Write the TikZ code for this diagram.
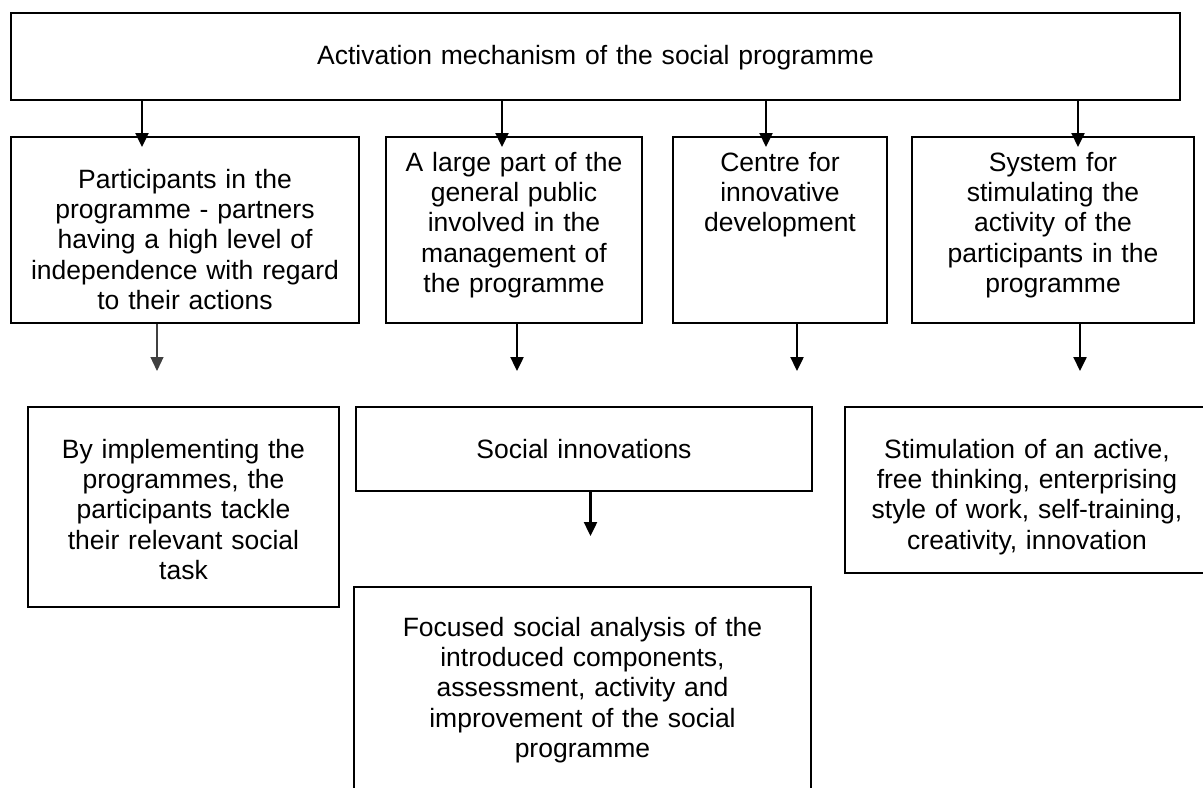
\documentclass[tikz,border=0pt]{standalone}
\usepackage{fontspec}
\setmainfont{Liberation Sans}
\usepackage{tikz}
\usetikzlibrary{arrows.meta,calc}
\tikzset{
  base/.style={font=\fontsize{13.25pt}{15.2pt}\selectfont, align=center, inner sep=0pt},
  box/.style={base, rectangle, draw=black, fill=white, line width=1pt, anchor=north west},
  arr/.style={-{Triangle[length=7pt,width=6.5pt]}, line width=1.2pt, draw=black},
  arrthin/.style={-{Triangle[length=7pt,width=6.5pt]}, line width=0.6pt, draw=black!75},
}

\begin{document}
\begin{tikzpicture}[x=0.5pt,y=-0.5pt]
  \useasboundingbox (0,0) rectangle (1203,787);
  \clip (0,0) rectangle (1203,787);
  % top
  \node[box,text width=584.5pt,text height=25.5pt,text depth=18pt] (top) at (10,12) {Activation mechanism of the social programme};
  % second row
  \node[box,text width=174pt,text height=25.5pt,text depth=67.5pt] (part) at (10,136) {Participants in the\\programme - partners\\having a high level of\\independence with regard\\to their actions};
  \node[box,text width=128pt,text height=17pt,text depth=76pt] (public) at (385,136) {A large part of the\\general public\\involved in the\\management of\\the programme};
  \node[box,text width=107pt,text height=17pt,text depth=76pt] (centre) at (672,136) {Centre for\\innovative\\development};
  \node[box,text width=141pt,text height=17pt,text depth=76pt] (system) at (911,136) {System for\\stimulating the\\activity of the\\participants in the\\programme};
  % third row
  \node[box,text width=155.5pt,text height=25.5pt,text depth=74.5pt] (tackle) at (27,406) {By implementing the\\programmes, the\\participants tackle\\their relevant social\\task};
  \node[box,text width=228pt,text height=25.5pt,text depth=16.5pt] (innov) at (355,406) {Social innovations};
  \node[box,text width=182pt,text height=25.5pt,text depth=57.5pt] (stim) at (844,406) {Stimulation of an active,\\free thinking, enterprising\\style of work, self-training,\\creativity, innovation};
  \node[box,text width=228.5pt,text height=24.5pt,text depth=82.5pt] (focus) at (353,586) {Focused social analysis of the\\introduced components,\\assessment, activity and\\improvement of the social\\programme};
  % arrow ends
  \coordinate (t1) at (142,147);
  \coordinate (t2) at (502,147);
  \coordinate (t3) at (766,147);
  \coordinate (t4) at (1078,147);
  \coordinate (d1) at (157,371);
  \coordinate (d2) at (517,371);
  \coordinate (d3) at (797,371);
  \coordinate (d4) at (1080,371);
  \coordinate (d5) at (590.5,536);
  \foreach \c in {t1,t2,t3,t4}{\draw[arr] (\c |- top.south) -- (\c);}
  \draw[arrthin] (d1 |- part.south) -- (d1);
  \draw[arr] (d2 |- public.south) -- (d2);
  \draw[arr] (d3 |- centre.south) -- (d3);
  \draw[arr] (d4 |- system.south) -- (d4);
  \draw[arr] (d5 |- innov.south) -- (d5);
\end{tikzpicture}
\end{document}
